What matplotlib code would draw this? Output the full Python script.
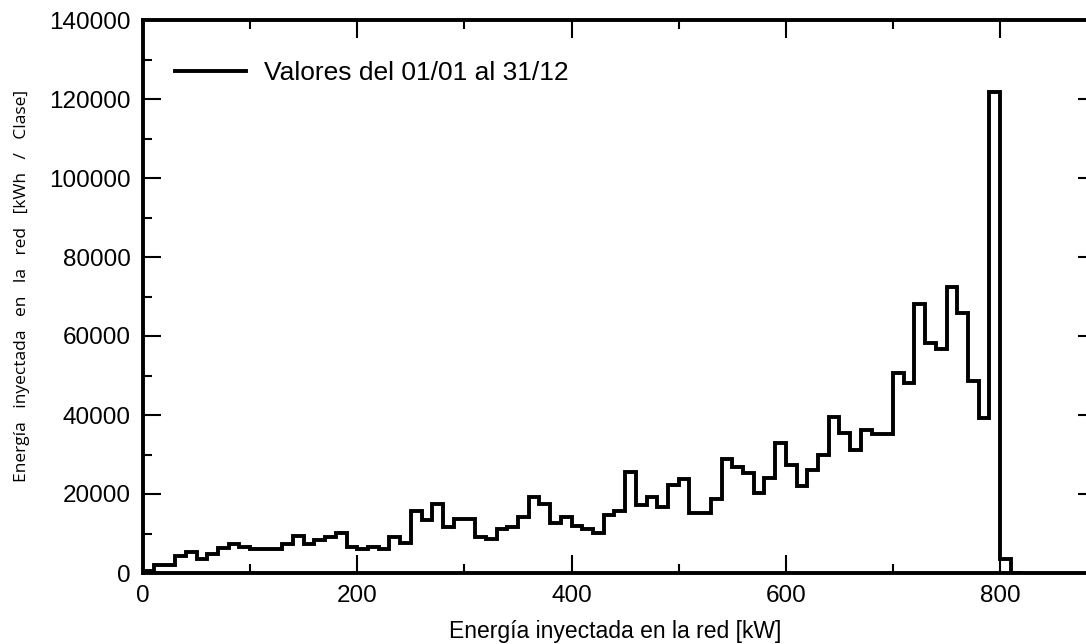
import numpy as np
import matplotlib
matplotlib.use("Agg")
from matplotlib import pyplot as plt
from matplotlib.ticker import MultipleLocator

# bins de 10 kW, de 0 a 820
bin_edges = list(range(0, 830, 10))
energia = [
    500, 2000, 2000, 4300, 5400, 3500, 4800, 6300, 7300, 6700,       # 0-100
    6100, 6100, 6100, 7300, 9400, 7300, 8400, 9200, 10200, 6700,     # 100-200
    6100, 6700, 6100, 9200, 7500, 15800, 13400, 17400, 11600, 13700, # 200-300
    13700, 9200, 8600, 11100, 11700, 14300, 19300, 17500, 12700, 14300,  # 300-400
    11900, 11100, 10200, 14700, 15700, 25500, 17200, 19300, 16700, 22400, # 400-500
    23700, 15100, 15100, 18700, 28800, 26800, 25300, 20200, 24000, 32800, # 500-600
    27400, 22100, 26200, 29800, 39500, 35400, 31100, 36300, 35300, 35300, # 600-700
    50600, 48100, 68000, 58200, 56600, 72400, 65900, 48500, 39200, 121700, # 700-800
    3500, 0,                                                         # 800-820
]
leyenda = "Valores del 01/01 al 31/12"
xlabel = "Energía inyectada en la red [kW]"
ylabel = "Energía   inyectada   en   la   red   [kWh   /   Clase]"

plt.rcParams['font.family'] = ['Liberation Sans', 'DejaVu Sans']

fig = plt.figure(figsize=(10.86, 6.44), dpi=100)
ax = fig.add_axes([143 / 1086, 1 - 573 / 644, (1088 - 143) / 1086, (573 - 20) / 644])

ax.stairs(energia, bin_edges, color='black', linewidth=2.8, baseline=0,
          label=leyenda)

ax.set_xlim(0, 882)
ax.set_ylim(0, 140000)
ax.xaxis.set_major_locator(MultipleLocator(200))
ax.xaxis.set_minor_locator(MultipleLocator(100))
ax.yaxis.set_major_locator(MultipleLocator(20000))
ax.yaxis.set_minor_locator(MultipleLocator(10000))

ax.tick_params(which='both', direction='in', top=True, right=False,
               width=1.5, labelsize=17.5)
ax.tick_params(which='major', length=13)
ax.tick_params(which='minor', length=6.5)
ax.tick_params(axis='x', pad=9)
ax.tick_params(axis='y', pad=9)

sec = ax.secondary_yaxis('right')
sec.yaxis.set_major_locator(MultipleLocator(20000))
sec.tick_params(direction='in', length=7, width=1.5, labelright=False)
sec.spines['right'].set_linewidth(2.8)

for s in ax.spines.values():
    s.set_linewidth(2.8)

ax.set_xlabel(xlabel, fontsize=16.5, labelpad=9)
ax.set_ylabel(ylabel, fontsize=12.5, family=['Open Sans', 'DejaVu Sans'])
ax.yaxis.set_label_coords(-0.12, 0.52)

ax.legend(loc='upper left', frameon=False, fontsize=19,
          handlelength=2.7, handletextpad=0.7,
          bbox_to_anchor=(0.0, 0.983), borderaxespad=0.8)

plt.savefig("out.png", dpi=100)
